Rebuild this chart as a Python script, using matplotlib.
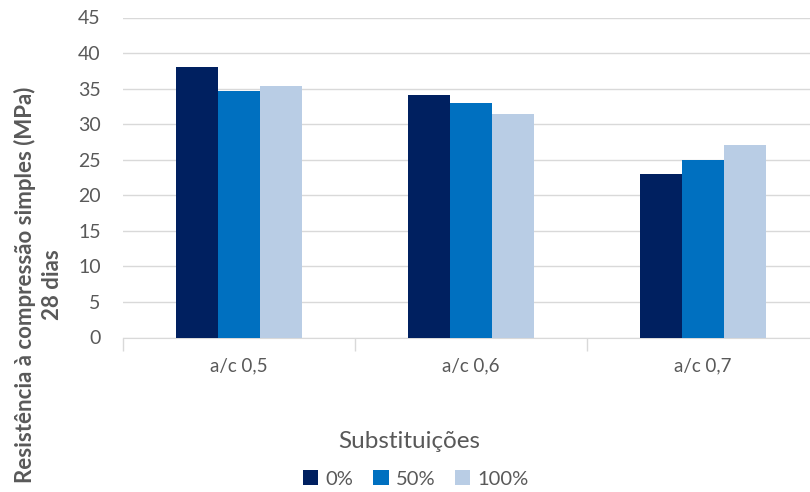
import matplotlib

matplotlib.use("Agg")
import matplotlib.pyplot as plt
import numpy as np

# compressive strength at 28 days (MPa) by w/c ratio and replacement level
categories = ["a/c 0,5", "a/c 0,6", "a/c 0,7"]
series_labels = ["0%", "50%", "100%"]
strength_0 = [38.1, 34.1, 23.0]
strength_50 = [34.7, 33.0, 24.9]
strength_100 = [35.4, 31.4, 27.1]
yticks = [0, 5, 10, 15, 20, 25, 30, 35, 40, 45]

colors = ["#002060", "#0070C0", "#B9CDE5"]
grey_text = "#595959"
grid_col = "#D9D9D9"

plt.rcParams["font.family"] = ["Lato", "DejaVu Sans"]

fig = plt.figure(figsize=(8.1, 4.92), dpi=100)
ax = fig.add_axes([123 / 810, 1 - 337.5 / 492, 696 / 810, 320 / 492])

x = np.arange(len(categories))
w = 0.181
for k, vals in enumerate([strength_0, strength_50, strength_100]):
    ax.bar(x + (k - 1) * w, vals, width=w, color=colors[k], label=series_labels[k], zorder=3)

ax.set_xlim(-0.5, 2.5)
ax.set_ylim(0, 45)
ax.set_yticks(yticks)
ax.set_xticks(x, categories)
ax.set_xticks([-0.5, 0.5, 1.5, 2.5], minor=True)
ax.tick_params(axis="x", which="major", length=0, pad=14, labelsize=13.5, labelcolor=grey_text)
ax.tick_params(axis="x", which="minor", length=9, width=1, color=grid_col)
ax.tick_params(axis="y", length=0, pad=16, labelsize=14, labelcolor=grey_text)
ax.grid(axis="y", color=grid_col, lw=1, zorder=0)
for s in ["top", "right", "left"]:
    ax.spines[s].set_visible(False)
ax.spines["bottom"].set_color(grid_col)

fig.text(38 / 810, 1 - 285 / 492, "Resistência à compressão simples (MPa)\n28 dias",
         rotation=90, ha="center", va="center", multialignment="center",
         fontsize=16, fontweight="bold", color=grey_text, linespacing=1.35)

fig.text(409 / 810, 1 - 441 / 492, "Substituições", ha="center", va="center",
         fontsize=17.5, color=grey_text)
fig.legend(loc="center", bbox_to_anchor=(416 / 810, 1 - 479 / 492), ncol=3, frameon=False,
           fontsize=14.5, labelcolor=grey_text, handlelength=0.75, handleheight=0.75,
           handletextpad=0.35, columnspacing=1.0)

fig.savefig("out.png", dpi=100)
